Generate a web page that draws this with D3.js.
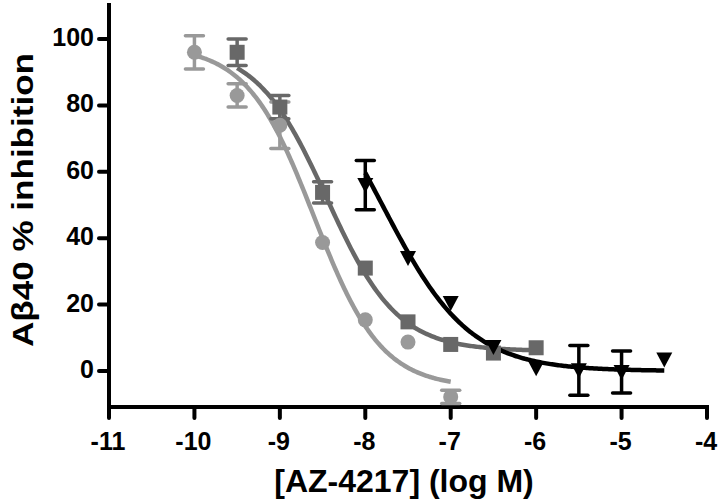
<!DOCTYPE html>
<html><head><meta charset="utf-8">
<script src="https://cdn.jsdelivr.net/npm/d3@7"></script>
<style>html,body{margin:0;padding:0;background:#fff}svg{display:block}</style>
</head><body>
<script>
// Data
const circX   = [-10, -9.5, -9, -8.5, -8, -7.5, -7];
const circY   = [96, 83, 74, 38.7, 15.4, 8.7, -7.8];
const circErr = [5, 3.5, 7, 0, 0, 0, 2];
const sqX     = [-9.5, -9, -8.5, -8, -7.5, -7, -6.5, -6];
const sqY     = [96, 79.5, 53.8, 31, 14.8, 8, 5.4, 7];
const sqErr   = [4, 3.5, 3.2, 0, 0, 0, 0, 0];
const triX    = [-8, -7.5, -7, -6.5, -6, -5.5, -5, -4.5];
const triY    = [56, 34, 20.5, 7.2, 0.8, 0.2, -0.3, 3.5];
const triErr  = [7.4, 0, 0, 0, 0, 7.5, 6.3, 0];
// fitted curve params: [top, bottom, logEC50, hill, xStart, xEnd]
const circFit = [98, -5, -8.6, 1.1, -10, -7];
const sqFit   = [98, 6, -8.45, 1.05, -9.5, -6];
const triFit  = [100, 0, -7.8, 0.85, -8, -4.5];
const xTicks  = [-11, -10, -9, -8, -7, -6, -5, -4];
const yTicks  = [0, 20, 40, 60, 80, 100];

const W = 720, H = 504;
const svg = d3.select("body").append("svg").attr("width", W).attr("height", H);
const x = d3.scaleLinear().domain([-11, -4]).range([109, 707]);
const y = d3.scaleLinear().domain([0, 100]).range([371, 39]);
const xAxisY = 407, yTop = 3;
const font = "'Liberation Sans', Arial, sans-serif";

// axes
const g = svg.append("g");
g.append("line").attr("x1", x(-11)).attr("x2", x(-11)).attr("y1", yTop).attr("y2", xAxisY + 2)
  .attr("stroke", "#000").attr("stroke-width", 4);
g.append("line").attr("x1", x(-11)).attr("x2", x(-4) + 2).attr("y1", xAxisY).attr("y2", xAxisY)
  .attr("stroke", "#000").attr("stroke-width", 4);
xTicks.forEach(t => {
  g.append("line").attr("x1", x(t)).attr("x2", x(t)).attr("y1", xAxisY).attr("y2", xAxisY + 11)
    .attr("stroke", "#000").attr("stroke-width", 4).attr("stroke-linecap", "round");
  g.append("text").attr("x", x(t) - 1).attr("y", 450).attr("text-anchor", "middle")
    .attr("font-family", font).attr("font-weight", "bold").attr("font-size", 25).text(t);
});
yTicks.forEach(t => {
  g.append("line").attr("x1", x(-11) - 10).attr("x2", x(-11)).attr("y1", y(t)).attr("y2", y(t))
    .attr("stroke", "#000").attr("stroke-width", 4).attr("stroke-linecap", "round");
  g.append("text").attr("x", 94).attr("y", y(t) + 7).attr("text-anchor", "end")
    .attr("font-family", font).attr("font-weight", "bold").attr("font-size", 25).text(t);
});
g.append("text").attr("x", 404).attr("y", 492).attr("text-anchor", "middle")
  .attr("font-family", font).attr("font-weight", "bold").attr("font-size", 32).text("[AZ-4217] (log M)");
g.append("text").attr("transform", "translate(33,200) rotate(-90)").attr("text-anchor", "middle")
  .attr("font-family", font).attr("font-weight", "bold").attr("font-size", 30)
  .attr("textLength", 294).attr("lengthAdjust", "spacingAndGlyphs").text("Aβ40 % inhibition");

function curve(fit, color) {
  const [top, bot, c, h, x0, x1] = fit;
  const pts = d3.range(0, 201).map(i => {
    const xv = x0 + (x1 - x0) * i / 200;
    return [xv, bot + (top - bot) / (1 + Math.pow(10, (xv - c) * h))];
  });
  svg.append("path").attr("d", d3.line().x(d => x(d[0])).y(d => y(d[1]))(pts))
    .attr("fill", "none").attr("stroke", color).attr("stroke-width", 4.5);
}
function errbars(xs, ys, es, color) {
  xs.forEach((xv, i) => {
    if (!es[i]) return;
    const eg = svg.append("g").attr("stroke", color).attr("stroke-width", 3.5);
    eg.append("line").attr("x1", x(xv)).attr("x2", x(xv)).attr("y1", y(ys[i] + es[i])).attr("y2", y(ys[i] - es[i]));
    [ys[i] + es[i], ys[i] - es[i]].forEach(v =>
      eg.append("line").attr("x1", x(xv) - 9).attr("x2", x(xv) + 9).attr("y1", y(v)).attr("y2", y(v))
        .attr("stroke-linecap", "round"));
  });
}

const cLight = "#999999", cDark = "#686868", cBlack = "#000000";
curve(circFit, cLight);
curve(sqFit, cDark);
curve(triFit, cBlack);
errbars(circX, circY, circErr, cLight);
errbars(sqX, sqY, sqErr, cDark);
errbars(triX, triY, triErr, cBlack);

svg.append("g").selectAll("circle").data(circX).join("circle")
  .attr("cx", d => x(d)).attr("cy", (d, i) => y(circY[i])).attr("r", 7.5).attr("fill", cLight);
svg.append("g").selectAll("rect").data(sqX).join("rect")
  .attr("x", d => x(d) - 7.5).attr("y", (d, i) => y(sqY[i]) - 7.5).attr("width", 15).attr("height", 15).attr("fill", cDark);
svg.append("g").selectAll("path").data(triX).join("path")
  .attr("d", (d, i) => { const cx = x(d), cy = y(triY[i]); return `M${cx-8},${cy-7}L${cx+8},${cy-7}L${cx},${cy+8}Z`; })
  .attr("fill", cBlack);
</script>
</body></html>
